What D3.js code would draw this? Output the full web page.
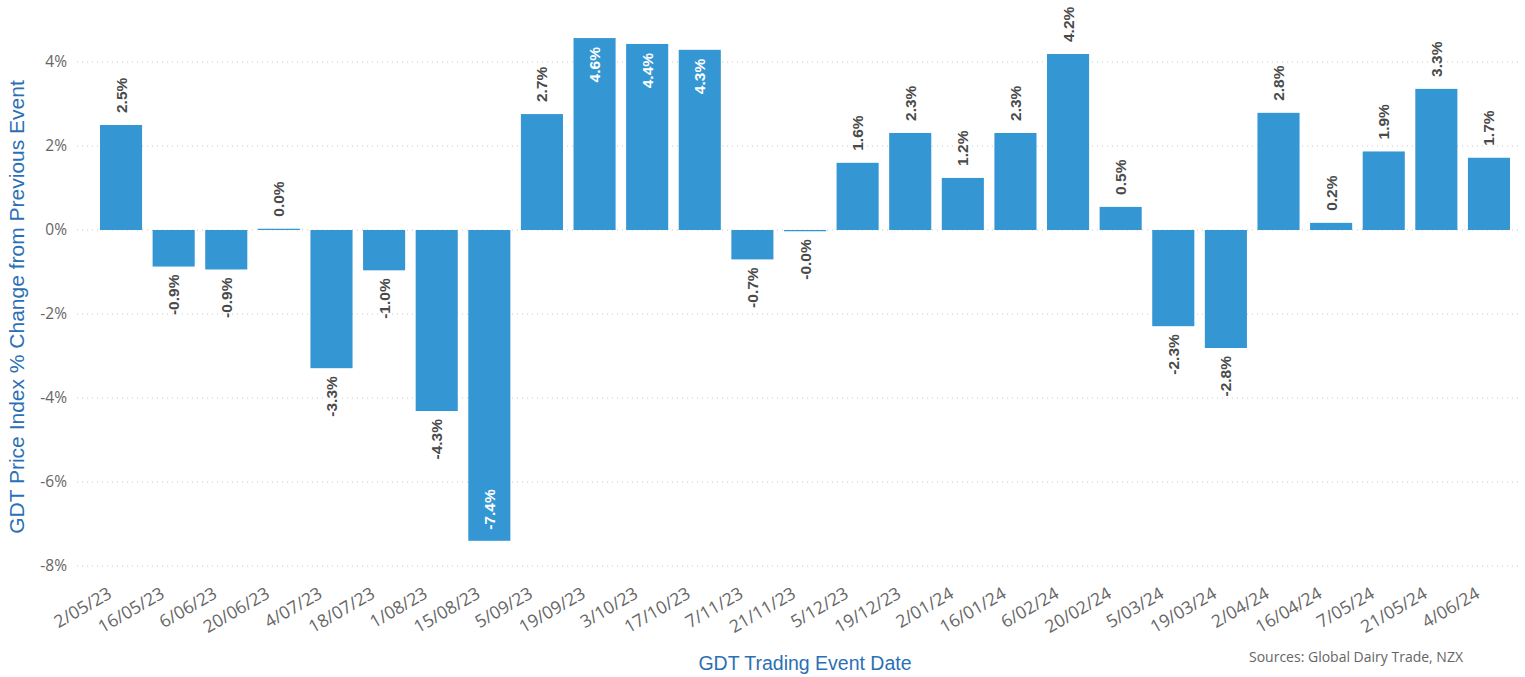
<!DOCTYPE html>
<html>
<head>
<meta charset="utf-8">
<script src="https://cdn.jsdelivr.net/npm/d3@7"></script>
<style>
  body { margin: 0; background: #fff; }
  text { font-family: "Open Sans", "Noto Sans", sans-serif; }
</style>
</head>
<body>
<script>
var dates = ["2/05/23","16/05/23","6/06/23","20/06/23","4/07/23","18/07/23","1/08/23","15/08/23",
             "5/09/23","19/09/23","3/10/23","17/10/23","7/11/23","21/11/23","5/12/23","19/12/23",
             "2/01/24","16/01/24","6/02/24","20/02/24","5/03/24","19/03/24","2/04/24","16/04/24",
             "7/05/24","21/05/24","4/06/24"];
var changes = [2.5, -0.87, -0.94, 0.03, -3.29, -0.96, -4.31, -7.4,
               2.76, 4.57, 4.43, 4.29, -0.7, -0.03, 1.6, 2.31,
               1.24, 2.31, 4.19, 0.55, -2.29, -2.81, 2.79, 0.17,
               1.87, 3.36, 1.72];
var labels = ["2.5%","-0.9%","-0.9%","0.0%","-3.3%","-1.0%","-4.3%","-7.4%",
              "2.7%","4.6%","4.4%","4.3%","-0.7%","-0.0%","1.6%","2.3%",
              "1.2%","2.3%","4.2%","0.5%","-2.3%","-2.8%","2.8%","0.2%",
              "1.9%","3.3%","1.7%"];
var yTicks = [-8, -6, -4, -2, 0, 2, 4];

var W = 1525, H = 677;
var barColor = "#3497d4";

var svg = d3.select("body").append("svg")
    .attr("width", W)
    .attr("height", H);

var x = d3.scaleBand()
    .domain(dates)
    .range([100, 1510])
    .paddingInner(0.2)
    .paddingOuter(0);

var y = d3.scaleLinear()
    .domain([-8, 4])
    .range([566, 62]);

// gridlines
svg.append("g")
    .selectAll("line")
    .data(yTicks)
    .enter()
    .append("line")
    .attr("x1", 77)
    .attr("x2", 1520)
    .attr("y1", function(d) { return y(d); })
    .attr("y2", function(d) { return y(d); })
    .attr("stroke", "#c8c8c8")
    .attr("stroke-width", 1)
    .attr("stroke-dasharray", "1,4");

// y axis
var yAxis = svg.append("g")
    .attr("transform", "translate(67,0)")
    .call(d3.axisLeft(y).tickValues(yTicks).tickSize(0).tickPadding(0)
        .tickFormat(function(d) { return d + "%"; }));
yAxis.select(".domain").remove();
yAxis.selectAll("text")
    .attr("fill", "#666")
    .style("font-size", "15.5px");

// x axis
var xAxis = svg.append("g")
    .attr("transform", "translate(0,576)")
    .call(d3.axisBottom(x).tickSize(0).tickPadding(0));
xAxis.select(".domain").remove();
xAxis.selectAll("text")
    .attr("fill", "#666")
    .style("font-size", "17.5px")
    .attr("text-anchor", "end")
    .attr("dy", "0")
    .attr("transform", "translate(-8,21) rotate(-30)");

// bars
var data = dates.map(function(d, i) { return { date: d, v: changes[i], label: labels[i] }; });

svg.append("g")
    .selectAll("rect")
    .data(data)
    .enter()
    .append("rect")
    .attr("x", function(d) { return x(d.date); })
    .attr("width", x.bandwidth())
    .attr("y", function(d) { return y(Math.max(0, d.v)); })
    .attr("height", function(d) { return Math.max(1, Math.abs(y(d.v) - y(0))); })
    .attr("fill", barColor);

// value labels: tall bars get white labels inside
var inside = function(d) { return d.v > 4.25 || d.v < -5; };

var lbl = svg.append("g")
    .selectAll("g")
    .data(data)
    .enter()
    .append("g")
    .attr("transform", function(d) {
        var cx = x(d.date) + x.bandwidth() / 2;
        var yy;
        if (inside(d)) {
            yy = d.v > 0 ? y(d.v) + 9 : y(d.v) - 11;
        } else {
            yy = d.v >= 0 ? y(d.v) - 12 : y(d.v) + 8;
        }
        return "translate(" + (cx + 5.5) + "," + yy + ") rotate(-90)";
    });

lbl.append("text")
    .attr("text-anchor", function(d) {
        if (inside(d)) return d.v > 0 ? "end" : "start";
        return d.v >= 0 ? "start" : "end";
    })
    .style("font-family", "'Liberation Sans', Arial, sans-serif")
    .style("font-size", "15.5px")
    .style("font-weight", "bold")
    .attr("fill", function(d) { return inside(d) ? "#fff" : "#4a4a4a"; })
    .attr("stroke", function(d) { return inside(d) ? "none" : "#fff"; })
    .attr("stroke-width", 3)
    .attr("paint-order", "stroke")
    .text(function(d) { return d.label; });

// axis titles
svg.append("text")
    .attr("transform", "translate(24,307) rotate(-90)")
    .attr("text-anchor", "middle")
    .attr("fill", "#2b6fb6")
    .style("font-family", "'Liberation Sans', Arial, sans-serif")
    .style("font-size", "21px")
    .text("GDT Price Index % Change from Previous Event");

svg.append("text")
    .attr("x", 805)
    .attr("y", 670)
    .attr("text-anchor", "middle")
    .attr("fill", "#2b6fb6")
    .style("font-family", "'Liberation Sans', Arial, sans-serif")
    .style("font-size", "19.5px")
    .text("GDT Trading Event Date");

svg.append("text")
    .attr("x", 1463)
    .attr("y", 662)
    .attr("text-anchor", "end")
    .attr("fill", "#666")
    .style("font-size", "14px")
    .text("Sources: Global Dairy Trade, NZX");
</script>
</body>
</html>
